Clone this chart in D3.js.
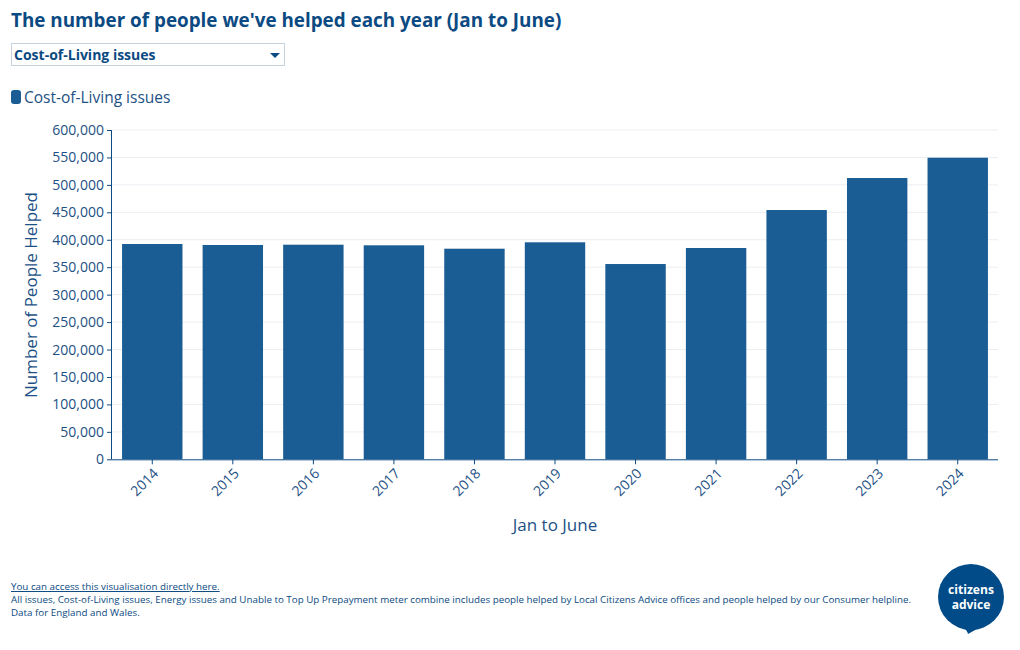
<!DOCTYPE html>
<html><head><meta charset="utf-8">
<script src="https://cdn.jsdelivr.net/npm/d3@7"></script>
<style>
body{margin:0;background:#fff;font-family:"Open Sans",sans-serif;}
</style></head>
<body><svg id="c" width="1020" height="650"></svg>
<script>
const years = ["2014","2015","2016","2017","2018","2019","2020","2021","2022","2023","2024"];
const values = [392300,390500,391000,389900,383700,395400,355800,385000,454200,512500,549500];
const yTicks = [0,50000,100000,150000,200000,250000,300000,350000,400000,450000,500000,550000,600000];
const seriesName = "Cost-of-Living issues";

const dark = "#0b4a82", bar = "#1a5c94", text = "#1d5185";
const svg = d3.select("#c");
const m = {l:112, r:998, t:130, b:459.3};

svg.append("text").attr("x",11).attr("y",27).attr("font-size",18.85).attr("font-weight",700)
  .attr("fill",dark).text("The number of people we've helped each year (Jan to June)");

// dropdown
svg.append("rect").attr("x",11.5).attr("y",43.5).attr("width",273).attr("height",22)
  .attr("fill","#fff").attr("stroke","#c5d3de");
svg.append("text").attr("x",14).attr("y",59.5).attr("font-size",14).attr("font-weight",700)
  .attr("fill",dark).text(seriesName);
svg.append("path").attr("d","M270,53 L280,53 L275,58 Z").attr("fill",dark);

// legend
svg.append("rect").attr("x",11).attr("y",90).attr("width",10).attr("height",14).attr("rx",3)
  .attr("fill",bar);
svg.append("text").attr("x",24).attr("y",103).attr("font-size",15.5).attr("fill",text).text(seriesName);

const x = d3.scaleBand().domain(years).range([m.l,m.r]).paddingInner(0.25).paddingOuter(0.125);
const y = d3.scaleLinear().domain([0,600000]).range([m.b,m.t]);

// grid
svg.append("g").selectAll("line").data(yTicks.slice(1)).join("line")
  .attr("x1",m.l).attr("x2",m.r).attr("y1",d=>y(d)).attr("y2",d=>y(d))
  .attr("stroke","#ebeef2").attr("stroke-width",1);

svg.append("g").selectAll("rect").data(values).join("rect")
  .attr("x",(d,i)=>x(years[i])).attr("width",x.bandwidth())
  .attr("y",d=>y(d)).attr("height",d=>m.b-y(d)).attr("fill",bar);

// y axis
const ya = svg.append("g").attr("transform",`translate(${m.l},0)`)
  .call(d3.axisLeft(y).tickValues(yTicks).tickFormat(d3.format(",")).tickSize(5).tickPadding(3));
ya.select(".domain").attr("stroke",dark).attr("d",`M-0.5,${m.b}V${m.t}`);
ya.selectAll(".tick line").attr("stroke",dark);
ya.selectAll("text").attr("font-size",14).attr("fill",text).attr("font-family","Open Sans");

// x axis
const xa = svg.append("g").attr("transform",`translate(0,${m.b})`)
  .call(d3.axisBottom(x).tickSize(5).tickSizeOuter(0));
xa.select(".domain").attr("stroke",dark).attr("d",`M${m.l},0.5H${m.r}`);
xa.selectAll(".tick line").attr("stroke",dark);
xa.selectAll("text").attr("font-size",14).attr("fill",text).attr("font-family","Open Sans")
  .attr("text-anchor","end").attr("dy",0).attr("y",0)
  .attr("transform","translate(7,15) rotate(-45)");

svg.append("text").attr("transform","translate(37,295) rotate(-90)").attr("text-anchor","middle")
  .attr("font-size",17).attr("fill",text).text("Number of People Helped");
svg.append("text").attr("x",555).attr("y",531).attr("text-anchor","middle")
  .attr("font-size",17).attr("fill",text).text("Jan to June");

// footnote
svg.append("text").attr("x",11).attr("y",590).attr("font-size",9.8).attr("fill",dark)
  .attr("text-decoration","underline").text("You can access this visualisation directly here.");
svg.append("text").attr("x",11).attr("y",603).attr("font-size",9.8).attr("fill",dark)
  .attr("textLength",900).attr("lengthAdjust","spacingAndGlyphs")
  .text("All issues, Cost-of-Living issues, Energy issues and Unable to Top Up Prepayment meter combine includes people helped by Local Citizens Advice offices and people helped by our Consumer helpline.");
svg.append("text").attr("x",11).attr("y",616).attr("font-size",9.8).attr("fill",dark)
  .text("Data for England and Wales.");

// logo
const lg = svg.append("g");
lg.append("circle").attr("cx",971).attr("cy",597).attr("r",33).attr("fill","#004b88");
lg.append("path").attr("d","M962,625 Q968,632 968,634 Q976,630 982,625 Z").attr("fill","#004b88");
lg.append("text").attr("x",971).attr("y",593.5).attr("text-anchor","middle").attr("font-size",12)
  .attr("font-weight",700).attr("fill","#fff").attr("textLength",46).attr("lengthAdjust","spacingAndGlyphs").text("citizens");
lg.append("text").attr("x",971).attr("y",608.5).attr("text-anchor","middle").attr("font-size",12)
  .attr("font-weight",700).attr("fill","#fff").text("advice");
</script></body></html>
